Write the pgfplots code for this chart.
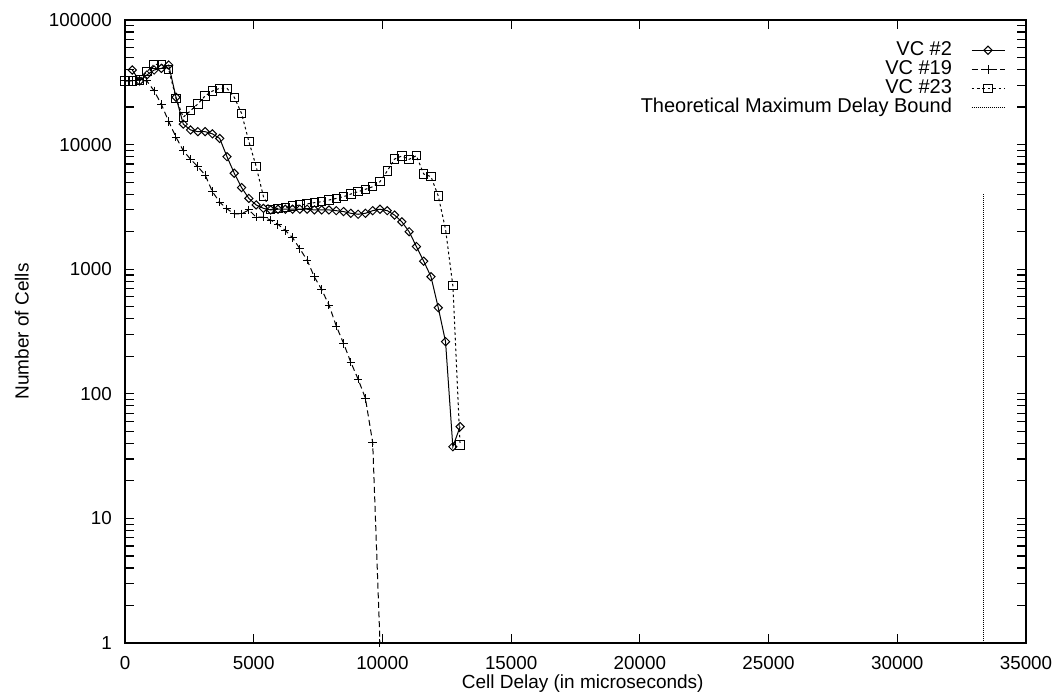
\documentclass[border=0pt]{standalone}
\usepackage{fontspec}
\setmainfont{Liberation Sans}
\usepackage{pgfplots}
\usepackage{pgfplotstable}
\pgfplotsset{compat=1.18}

% Histogram bins are 100 cell times wide (283 microseconds)
\pgfplotstableread{
x      n
283    39700
566    32400
849    36200
1132   39700
1415   40900
1698   43500
1981   24000
2264   14600
2547   13100
2830   12700
3113   12700
3396   12200
3679   11200
3962   8000
4245   5890
4528   4520
4811   3700
5094   3280
5377   3080
5660   2990
5943   3030
6226   3030
6509   3030
6792   3030
7075   3030
7358   2990
7641   2990
7924   2990
8207   2950
8490   2900
8773   2810
9056   2760
9339   2810
9622   2950
9905   3030
10188  2950
10471  2720
10754  2400
11037  2000
11320  1520
11603  1160
11886  871
12169  491
12452  262
12735  37.6
13018  54.5
}\vctwo

\pgfplotstableread{
x      n
0      32500
283    32500
566    33000
849    32400
1132   27000
1415   21000
1698   15300
1981   11500
2264   8940
2547   7630
2830   6650
3113   5700
3396   4190
3679   3450
3962   3050
4245   2780
4528   2780
4811   2990
5094   2620
5377   2620
5660   2480
5943   2290
6226   2050
6509   1790
6792   1460
7075   1180
7358   866
7641   685
7924   516
8207   350
8490   254
8773   179
9056   131
9339   92
9622   40.5
9905   1
}\vcnineteen

\pgfplotstableread{
x      n
0      32500
283    32500
566    33000
849    38500
1132   44100
1415   44100
1698   40200
1981   23500
2264   16600
2547   18700
2830   21200
3113   24600
3396   26900
3679   28300
3962   28300
4245   24000
4528   17800
4811   10600
5094   6700
5377   3830
5660   3010
5943   3080
6226   3140
6509   3220
6792   3270
7075   3340
7358   3420
7641   3480
7924   3590
8207   3700
8490   3820
8773   4010
9056   4190
9339   4380
9622   4590
9905   5040
10188  6140
10471  7660
10754  8100
11037  7620
11320  8140
11603  5810
11886  5530
12169  3870
12452  2090
12735  738
13018  38.8
}\vctwentythree

\pgfplotsset{
  legend image code/.code={%
    \draw[mark repeat=2,mark phase=2,#1]
      plot coordinates {(0pt,0pt) (8.25pt,0pt) (16.5pt,0pt)};%
  }
}

\begin{document}
\begin{tikzpicture}
\begin{axis}[
  name=ax,
  scale only axis,
  width=450.5pt, height=311.5pt,
  xmin=0, xmax=35000,
  ymode=log, ymin=1, ymax=100000,
  scaled x ticks=false,
  axis line style={line width=1pt},
  tick style={line width=0.6pt, black},
  tick align=inside, tick pos=both,
  major tick length=4.5pt, minor tick length=4.5pt,
  xtick={0,5000,10000,15000,20000,25000,30000,35000},
  xticklabels={0,5000,10000,15000,20000,25000,30000,35000},
  ytick={1,10,100,1000,10000,100000},
  yticklabels={1,10,100,1000,10000,100000},
  minor ytick={2,3,4,5,6,7,8,9,20,30,40,50,60,70,80,90,200,300,400,500,600,700,800,900,2000,3000,4000,5000,6000,7000,8000,9000,20000,30000,40000,50000,60000,70000,80000,90000},
  tick label style={font=\fontsize{9.4}{11}\selectfont},
  xticklabel style={yshift=-3.2pt},
  yticklabel style={xshift=-3.1pt},
  xlabel={Cell Delay (in microseconds)},
  ylabel={Number of Cells},
  label style={font=\fontsize{9.5}{11}\selectfont},
  xlabel style={at={(axis description cs:0.508,0)}, anchor=center, yshift=-20.5pt},
  ylabel style={at={(axis description cs:-0.1146,0.5)}, anchor=center},
  legend cell align=right,
  legend plot pos=right,
  legend style={draw=none, fill=none, inner sep=0pt, outer sep=0pt,
    at={(axis description cs:0.9767,0.9668)}, anchor=north east,
    column sep=9.5pt,
    font=\fontsize{10}{12}\selectfont,
    nodes={inner sep=0pt, text height=7.4pt, text depth=2.15pt}},
]
\addplot[black, line width=0.5pt, mark=square, mark size=1.45pt,
  mark options={solid, rotate=45, line width=0.5pt}]
  table[x=x, y=n] {\vctwo};
\addlegendentry{VC \#2}

\addplot[black, line width=0.5pt, dash pattern=on 3pt off 1.8pt,
  mark=+, mark size=2.1pt, mark options={solid, line width=0.5pt}]
  table[x=x, y=n] {\vcnineteen};
\addlegendentry{VC \#19}

\addplot[black, line width=0.5pt, dash pattern=on 1.3pt off 1.4pt,
  mark=square, mark size=2.1pt, mark options={solid, line width=0.5pt}]
  table[x=x, y=n] {\vctwentythree};
\addlegendentry{VC \#23}

\addplot[black, line width=0.5pt, dash pattern=on 0.5pt off 0.5pt]
  coordinates {(33333,1) (33333,4000)};
\addlegendentry{Theoretical Maximum Delay Bound}
\end{axis}
\pgfresetboundingbox
\path[use as bounding box]
  ([xshift=-62.5pt,yshift=-27.5pt]ax.south west)
  rectangle ([xshift=18pt,yshift=10pt]ax.north east);
\end{tikzpicture}
\end{document}
